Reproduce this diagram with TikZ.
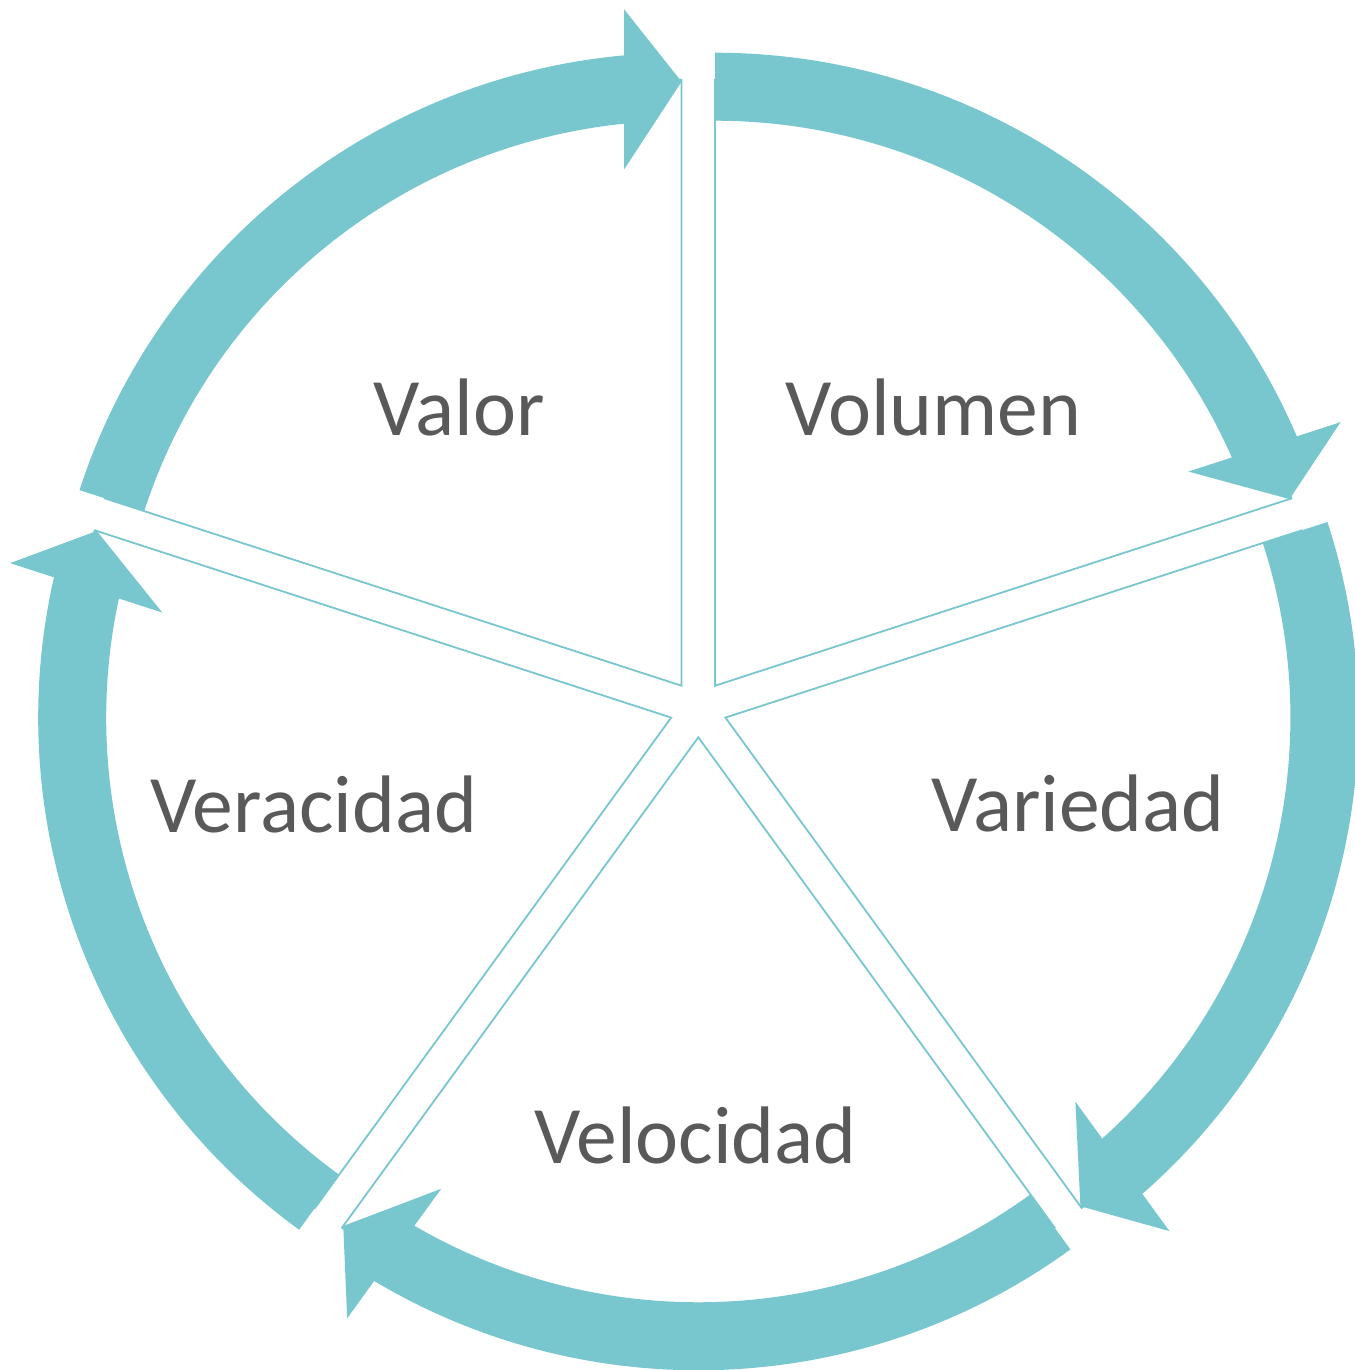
\documentclass[tikz,border=0pt]{standalone}
\usepackage{fontspec}
\setmainfont{Carlito}
\definecolor{tealarc}{RGB}{120,198,206}
\definecolor{txtgray}{RGB}{89,89,89}
\begin{document}
\begin{tikzpicture}[x=0.5pt,y=0.5pt,
  wedge/.style={draw=tealarc, line width=0.9pt, fill=white, line join=miter},
  arrowband/.style={fill=tealarc, draw=none},
  lbl/.style={text=txtgray, font=\fontsize{40.8}{48}\selectfont, anchor=base, inner sep=0pt}]
\useasboundingbox (0,0) rectangle (1354,1370);
\foreach \k in {0,...,4}{
  \begin{scope}[shift={(698.3,661.2)}, rotate=-72*\k]
    \draw[wedge] (126:28.5) -- ++(90:606) arc[start angle=90, end angle=162, radius=606] -- cycle;
  \end{scope}
}
\foreach \k in {0,...,4}{
  \begin{scope}[shift={(698.3,661.2)}, rotate=-72*\k, shift={(126:28.5)}]
    \fill[arrowband] (162:565) -- (162:633) arc[start angle=162, end angle=95.2, radius=633]
      -- (-57.4,676.4) -- (0,604) -- (-57.4,516.4)
      -- (95.83:565) arc[start angle=95.83, end angle=162, radius=565] -- cycle;
  \end{scope}
}
\node[lbl] (valor) at (459,934) {Valor};
\node[lbl] (volumen) at (933.3,934) {Volumen};
\node[lbl] (variedad) at (1078,538.3) {Variedad};
\node[lbl] (velocidad) at (695.5,206) {Velocidad};
\node[lbl] (veracidad) at (313.8,537.3) {Veracidad};
\end{tikzpicture}
\end{document}
